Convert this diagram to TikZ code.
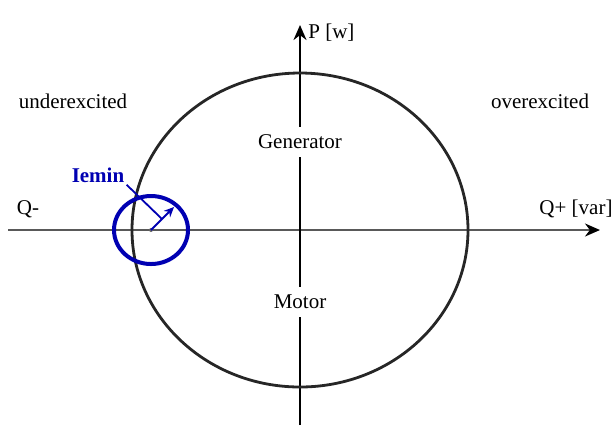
\documentclass[tikz,border=0pt]{standalone}
\usepackage{fontspec}
\setmainfont{Liberation Serif}
\usetikzlibrary{arrows.meta,positioning,calc}

\begin{document}
\begin{tikzpicture}[
    x=0.5pt, y=-0.5pt,
    font=\fontsize{10.5}{12}\selectfont,
    % --- styles ---
    axis/.style    = {line width=1pt, -{Stealth[length=7.5pt,width=6.5pt,black]}},
    qaxis/.style   = {axis, draw=black!65},
    curve/.style   = {line width=1.4pt, black!85},
    mincurve/.style= {line width=2pt, blue!70!black},
    plane/.style   = {fill=white, inner sep=4pt},
    lbl/.style     = {inner sep=1pt},
    minlbl/.style  = {lbl, font=\fontsize{10.5}{12}\selectfont\bfseries, text=blue!70!black},
]

\useasboundingbox (0,0) rectangle (614,425);

%============ AXES ============
\coordinate (qneg) at (8,230);
\coordinate (qpos) at (600,230);
\coordinate (pbot) at (300,425);
\coordinate (ptop) at (300,25);

\draw[qaxis] (qneg) -- (qpos);
\draw[axis]  (pbot) -- (ptop);

%============ CAPABILITY CIRCLE ============
\coordinate (origin) at (300,230);
\draw[curve] (origin) ellipse [x radius=168, y radius=157];

%============ PLANE LABELS ============
\node (gen)   [plane] at (300,142) {Generator};
\node (motor) [plane] at (300,302) {Motor};

\node (under) [lbl] at (73,101)  {underexcited};
\node (over)  [lbl] at (540,101) {overexcited};

\node (qminus) [lbl] at (28,209)  {Q-};
\node (qplus)  [lbl] at (576,209) {Q+ [var]};
\node (pw)     [lbl, right=3pt of ptop, yshift=-4pt] {P [w]};

%============ MINIMUM EXCITATION ============
\coordinate (mincenter) at (151,230);
\coordinate (minedge)   at (174,207);
\coordinate (minhit)    at (162,219);

\draw[mincurve] (mincenter) ellipse [x radius=37, y radius=34];
\fill[black!60] (mincenter) circle [radius=2];
\draw[blue!70!black, line width=0.9pt, -{Stealth[length=5pt,width=4.5pt]}]
  (mincenter) -- (minedge);

\node (iemin) [minlbl] at (98,175) {Iemin};
\draw[blue!70!black, line width=0.9pt] (iemin.south east) -- (minhit);

\end{tikzpicture}
\end{document}
